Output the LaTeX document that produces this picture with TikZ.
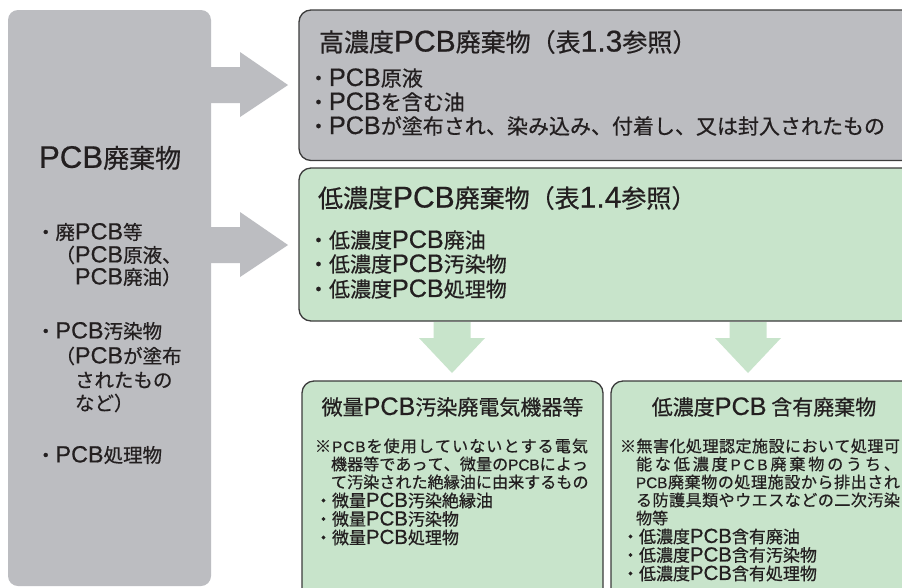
\documentclass[tikz,border=0pt]{standalone}
\usepackage{fontspec}
\usepackage{graphicx}
\setmainfont{Noto Sans CJK JP}[FakeBold=0.6]
\newfontfamily\lat{Liberation Sans}[Scale=1.2,FakeBold=0.6]
\newfontfamily\latn{Liberation Sans}[Scale=0.95,FakeBold=0.6]
\newcommand\pcb{{\lat PCB}}
\newcommand\pcbn{{\latn PCB}}
\newcommand\lP{{\latn P}}
\newcommand\lC{{\latn C}}
\newcommand\lB{{\latn B}}
\newcommand\fs[1]{\fontsize{#1}{#1}\selectfont}
\def\spr#1{#1\sprx}
\def\sprx#1{\ifx\relax#1\else\hfill#1\expandafter\sprx\fi}
\definecolor{boxgray}{RGB}{188,189,193}
\definecolor{boxgreen}{RGB}{200,228,203}
\definecolor{bord}{RGB}{60,60,60}
\definecolor{txt}{RGB}{35,31,32}
\begin{document}
\begin{tikzpicture}[x=1pt,y=-1pt,
  every node/.style={inner sep=0pt,outer sep=0pt,text=txt},
  tl/.style={anchor=west},
  tbox/.style={draw=bord,line width=1.3pt,rounded corners=12pt},
  big/.style={font=\fs{25}},
  mid/.style={font=\fs{21}},
  lst/.style={font=\fs{19.5}},
  note/.style={font=\fs{16.1}},
  sml/.style={font=\fs{17}}]
\useasboundingbox (0,0) rectangle (902,587);
\clip (0,0) rectangle (902,587);
\fill[white] (0,0) rectangle (902,587);
% left box
\fill[boxgray,rounded corners=10pt] (8,10) rectangle (211,586);
% gray arrows
\fill[boxgray] (205,67) -- (240,67) -- (240,52) -- (288,85) -- (240,117) -- (240,103) -- (205,103) -- cycle;
\fill[boxgray] (205,227) -- (240,227) -- (240,212) -- (288,245) -- (240,277) -- (240,263) -- (205,263) -- cycle;
% right boxes
\draw[tbox,fill=boxgray] (299,10) rectangle (940,160.5);
\draw[tbox,fill=boxgreen] (299,168) rectangle (940,321);
% green arrows
\fill[boxgreen] (433.5,322) -- (470.5,322) -- (470.5,338) -- (485,338) -- (452,373) -- (419,338) -- (433.5,338) -- cycle;
\fill[boxgreen] (729.5,322) -- (766.5,322) -- (766.5,338) -- (781,338) -- (748,373) -- (715,338) -- (729.5,338) -- cycle;
% bottom boxes
\draw[tbox,fill=boxgreen] (302,381) rectangle (603,620);
\draw[tbox,fill=boxgreen] (611,381) rectangle (940,620);

% left texts
\node[tl,font=\fs{26}] (lt) at (39,158) {\pcb 廃棄物};
\node[tl,lst] (l1) at (36,232) {・廃\pcb 等};
\node[tl,lst] (l2) at (55.5,255) {（\pcb 原液、};
\node[tl,lst] (l3) at (75,277) {\pcb 廃油）};
\node[tl,lst] (l4) at (36,331) {・\pcb 汚染物};
\node[tl,lst] (l5) at (55.5,356) {（\pcb が塗布};
\node[tl,lst] (l6) at (75,380) {されたもの};
\node[tl,lst] (l7) at (75,403) {など）};
\node[tl,lst] (l8) at (36,455) {・\pcb 処理物};

% high concentration
\node[tl,big] (ht) at (319,42) {高濃度\pcb 廃棄物（表{\lat 1.3}参照）};
\node[tl,mid] (h1) at (308,78) {・\pcb 原液};
\node[tl,mid] (h2) at (308,102) {・\pcb を含む油};
\node[tl,mid] (h3) at (308,126) {・\pcb が塗布され、染み込み、付着し、又は封入されたもの};

% low concentration
\node[tl,big] (gt) at (318,198) {低濃度\pcb 廃棄物（表{\lat 1.4}参照）};
\node[tl,mid] (g1) at (308,240) {・低濃度\pcb 廃油};
\node[tl,mid] (g2) at (308,264) {・低濃度\pcb 汚染物};
\node[tl,mid] (g3) at (308,289) {・低濃度\pcb 処理物};

% bottom left
\node[mid] (bt1) at (452.5,407) {微量\pcb 汚染廃電気機器等};
\node[tl,note] (n1) at (315,446) {\makebox[273pt][s]{\spr ※\lP\lC\lB を使用していないとする電気\relax}};
\node[tl,note] (n2) at (331,464) {\makebox[257pt][s]{\spr 機器等であって、微量の\pcbn によっ\relax}};
\node[tl,note] (n3) at (331,482) {て汚染された絶縁油に由来するもの};
\node[tl,sml] (b1) at (315,500.5) {・微量\pcb 汚染絶縁油};
\node[tl,sml] (b2) at (315,519) {・微量\pcb 汚染物};
\node[tl,sml] (b3) at (315,537.5) {・微量\pcb 処理物};

% bottom right
\node[mid] (bt2) at (764,407) {低濃度\pcb\ 含有廃棄物};
\node[tl,note] (m1) at (620,446) {\makebox[280pt][s]{\spr ※無害化処理認定施設において処理可\relax}};
\node[tl,note] (m2) at (636,464) {\makebox[264pt][s]{\spr 能な低濃度\lP\lC\lB 廃棄物のうち、\relax}};
\node[tl,note] (m3) at (636,482) {\makebox[264pt][s]{\spr \pcbn 廃棄物の処理施設から排出され\relax}};
\node[tl,note] (m4) at (636,500) {\makebox[264pt][s]{\spr る防護具類やウエスなどの二次汚染\relax}};
\node[tl,note] (m5) at (636,518) {物等};
\node[tl,sml] (c1) at (622,536.5) {・低濃度\pcb 含有廃油};
\node[tl,sml] (c2) at (622,555) {・低濃度\pcb 含有汚染物};
\node[tl,sml] (c3) at (622,573.5) {・低濃度\pcb 含有処理物};
\end{tikzpicture}
\end{document}
